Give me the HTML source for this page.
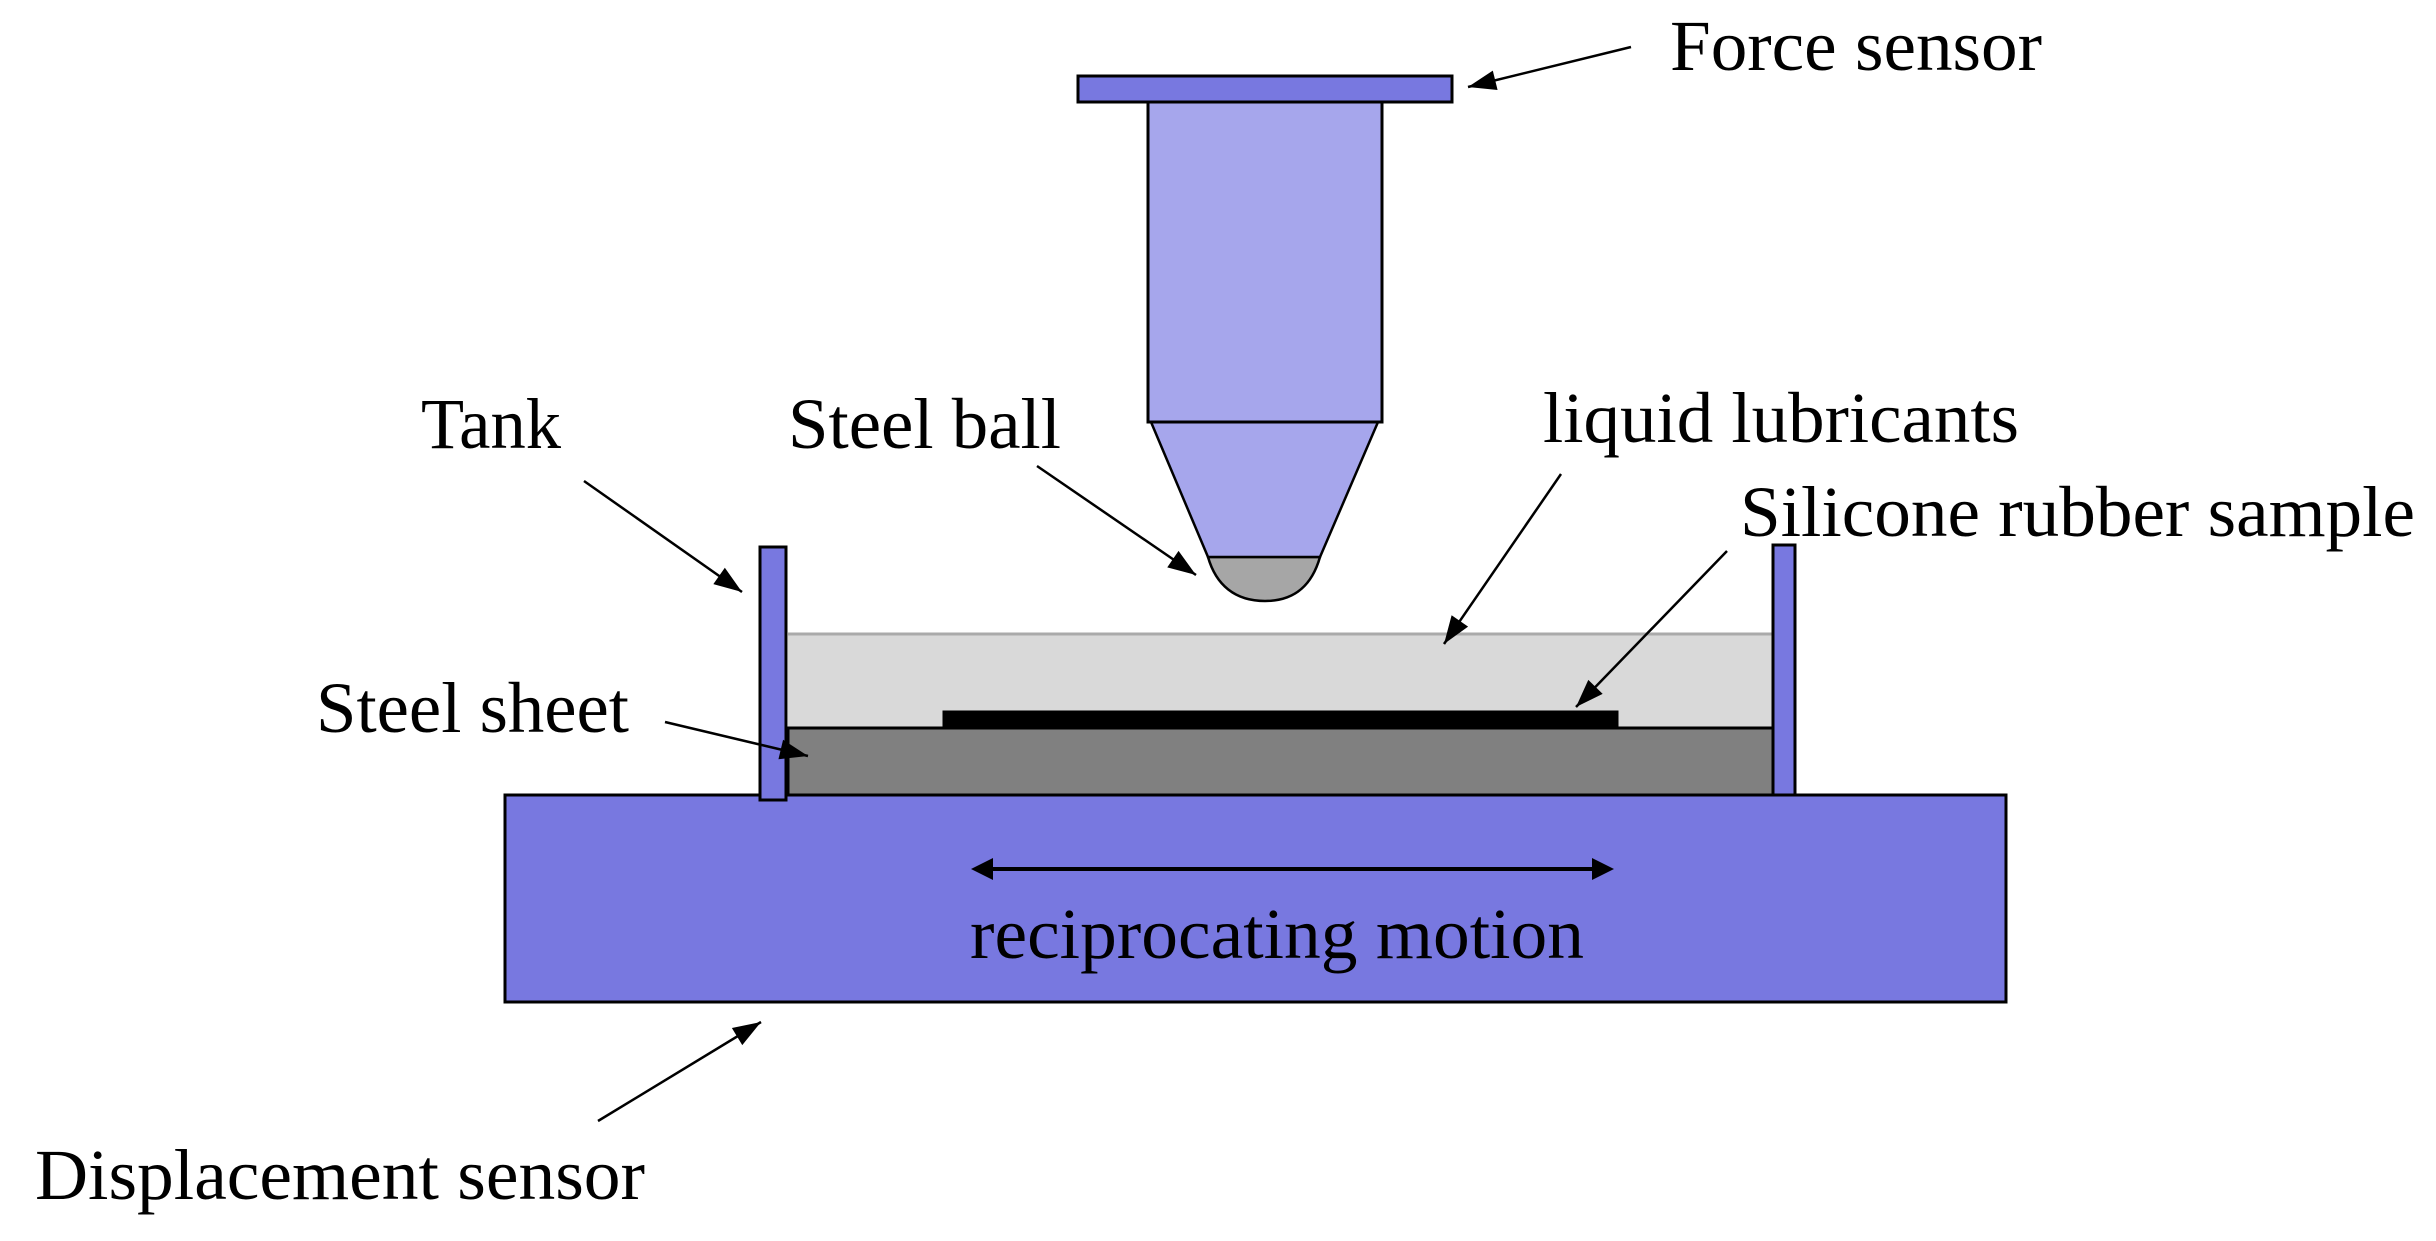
<!DOCTYPE html>
<html><head><meta charset="utf-8"><style>html,body{margin:0;padding:0;background:#fff}svg{display:block}</style></head>
<body>
<svg width="2436" height="1241" viewBox="0 0 2436 1241" xmlns="http://www.w3.org/2000/svg">
<g stroke="#000" stroke-width="3">
<rect x="788" y="634" width="985" height="94" fill="#d9d9d9" stroke="none"/>
<line x1="788" y1="634" x2="1773" y2="634" stroke="#aaa" stroke-width="3"/>
<rect x="788" y="728" width="985" height="67" fill="#808080"/>
<rect x="944" y="712" width="673" height="16" fill="#000"/>
<rect x="505" y="795" width="1501" height="207" fill="#7878e0"/>
<rect x="760" y="547" width="26" height="253" fill="#7878e0"/>
<rect x="1773" y="545" width="22" height="250" fill="#7878e0"/>
<path d="M1208 557 L1320 557 C1312 585 1295 601 1265 601 C1235 601 1216 585 1208 557 Z" fill="#a6a6a6" stroke-width="2.5"/>
<path d="M1151 422 L1378 422 L1320 557 L1208 557 Z" fill="#a6a6ec" stroke-width="2.5"/>
<rect x="1148" y="102" width="234" height="320" fill="#a6a6ec"/>
<rect x="1078" y="76" width="374" height="26" fill="#7878e0"/>
</g>
<g stroke="#000" stroke-width="2.5" fill="none">
<line x1="1631" y1="47" x2="1468" y2="87"/>
<line x1="584" y1="481" x2="742" y2="592"/>
<line x1="1037" y1="466" x2="1196" y2="575"/>
<line x1="1561" y1="474" x2="1444" y2="644"/>
<line x1="1727" y1="551" x2="1576" y2="707"/>
<line x1="665" y1="722" x2="808" y2="756"/>
<line x1="598" y1="1121" x2="761" y2="1022"/>
<line x1="985" y1="869" x2="1600" y2="869" stroke-width="4"/>
</g>
<g fill="#000">
<polygon points="0,0 -28,-10 -28,10" transform="translate(1468,87) rotate(166.2)"/>
<polygon points="0,0 -28,-10 -28,10" transform="translate(742,592) rotate(35.1)"/>
<polygon points="0,0 -28,-10 -28,10" transform="translate(1196,575) rotate(34.4)"/>
<polygon points="0,0 -28,-10 -28,10" transform="translate(1444,644) rotate(124.5)"/>
<polygon points="0,0 -28,-10 -28,10" transform="translate(1576,707) rotate(134.1)"/>
<polygon points="0,0 -28,-10 -28,10" transform="translate(808,756) rotate(13.4)"/>
<polygon points="0,0 -28,-10 -28,10" transform="translate(761,1022) rotate(-31.3)"/>
<polygon points="0,0 -22,-11 -22,11" transform="translate(1614,869)"/>
<polygon points="0,0 -22,-11 -22,11" transform="translate(971,869) rotate(180)"/>
</g>
<g font-family="'Liberation Serif', serif" font-size="72" fill="#000">
<text x="1670" y="70" textLength="372" lengthAdjust="spacingAndGlyphs">Force sensor</text>
<text x="421" y="448" textLength="140" lengthAdjust="spacingAndGlyphs">Tank</text>
<text x="788" y="448" textLength="273" lengthAdjust="spacingAndGlyphs">Steel ball</text>
<text x="1543" y="442" textLength="476" lengthAdjust="spacingAndGlyphs">liquid lubricants</text>
<text x="1740" y="536" textLength="675" lengthAdjust="spacingAndGlyphs">Silicone rubber sample</text>
<text x="316" y="732" textLength="313" lengthAdjust="spacingAndGlyphs">Steel sheet</text>
<text x="970" y="958" textLength="614" lengthAdjust="spacingAndGlyphs">reciprocating motion</text>
<text x="35" y="1199" textLength="610" lengthAdjust="spacingAndGlyphs">Displacement sensor</text>
</g>
</svg>
</body></html>
